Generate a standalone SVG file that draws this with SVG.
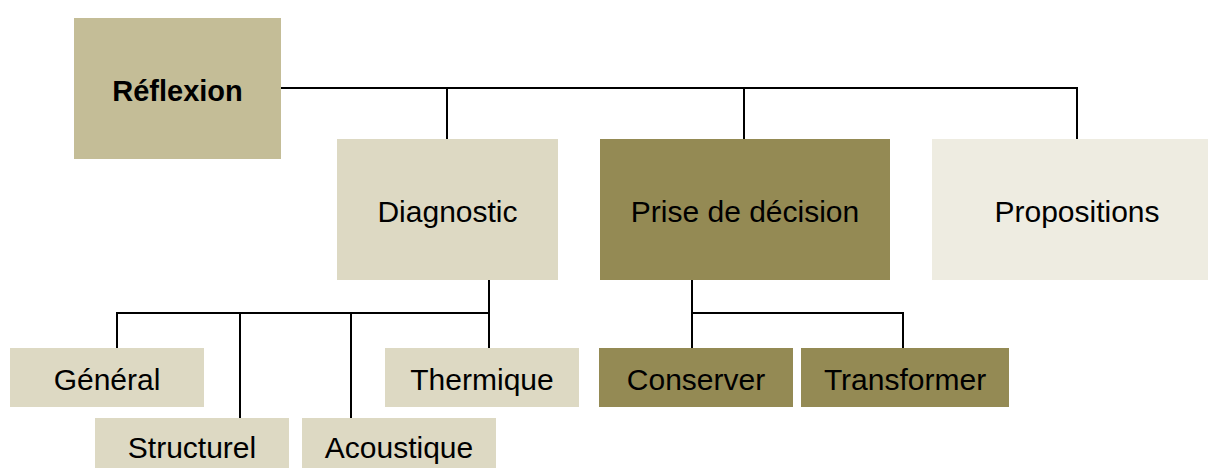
<svg xmlns="http://www.w3.org/2000/svg" width="1208" height="468" viewBox="0 0 1208 468">
<style>
text{font-family:"Liberation Sans",Arial,sans-serif;font-size:30px;fill:#000;text-anchor:middle}
.b{font-weight:bold;font-size:29px}
.c1{fill:#c4bd97}
.c2{fill:#ddd9c3}
.c3{fill:#948a54}
.c4{fill:#eeece1}
.ln{fill:none;stroke:#000;stroke-width:2}
</style>
<rect width="1208" height="468" fill="#fff"/>
<g id="connectors" class="ln">
<path d="M281 88H1077V139M447 88V139M744 88V139"/>
<path d="M489 280V313H117V348M240 313V418M351 313V418M489 313V348"/>
<path d="M692 280V348M692 313H903V348"/>
</g>
<g id="reflexion"><rect class="c1" x="74" y="18" width="207" height="141"/><text class="b" x="177.5" y="101">Réflexion</text></g>
<g id="diagnostic"><rect class="c2" x="337" y="139" width="221" height="141"/><text x="447.5" y="222">Diagnostic</text></g>
<g id="decision"><rect class="c3" x="600" y="139" width="290" height="141"/><text x="745" y="222">Prise de décision</text></g>
<g id="propositions"><rect class="c4" x="932" y="139" width="276" height="141"/><text x="1077" y="222">Propositions</text></g>
<g id="general"><rect class="c2" x="10" y="348" width="194" height="59"/><text x="107" y="390">Général</text></g>
<g id="thermique"><rect class="c2" x="385" y="348" width="194" height="59"/><text x="482" y="390">Thermique</text></g>
<g id="structurel"><rect class="c2" x="95" y="418" width="194" height="50"/><text x="192" y="458">Structurel</text></g>
<g id="acoustique"><rect class="c2" x="302" y="418" width="194" height="50"/><text x="399" y="458">Acoustique</text></g>
<g id="conserver"><rect class="c3" x="599" y="348" width="194" height="59"/><text x="696" y="390">Conserver</text></g>
<g id="transformer"><rect class="c3" x="801" y="348" width="208" height="59"/><text x="905" y="390">Transformer</text></g>
</svg>
